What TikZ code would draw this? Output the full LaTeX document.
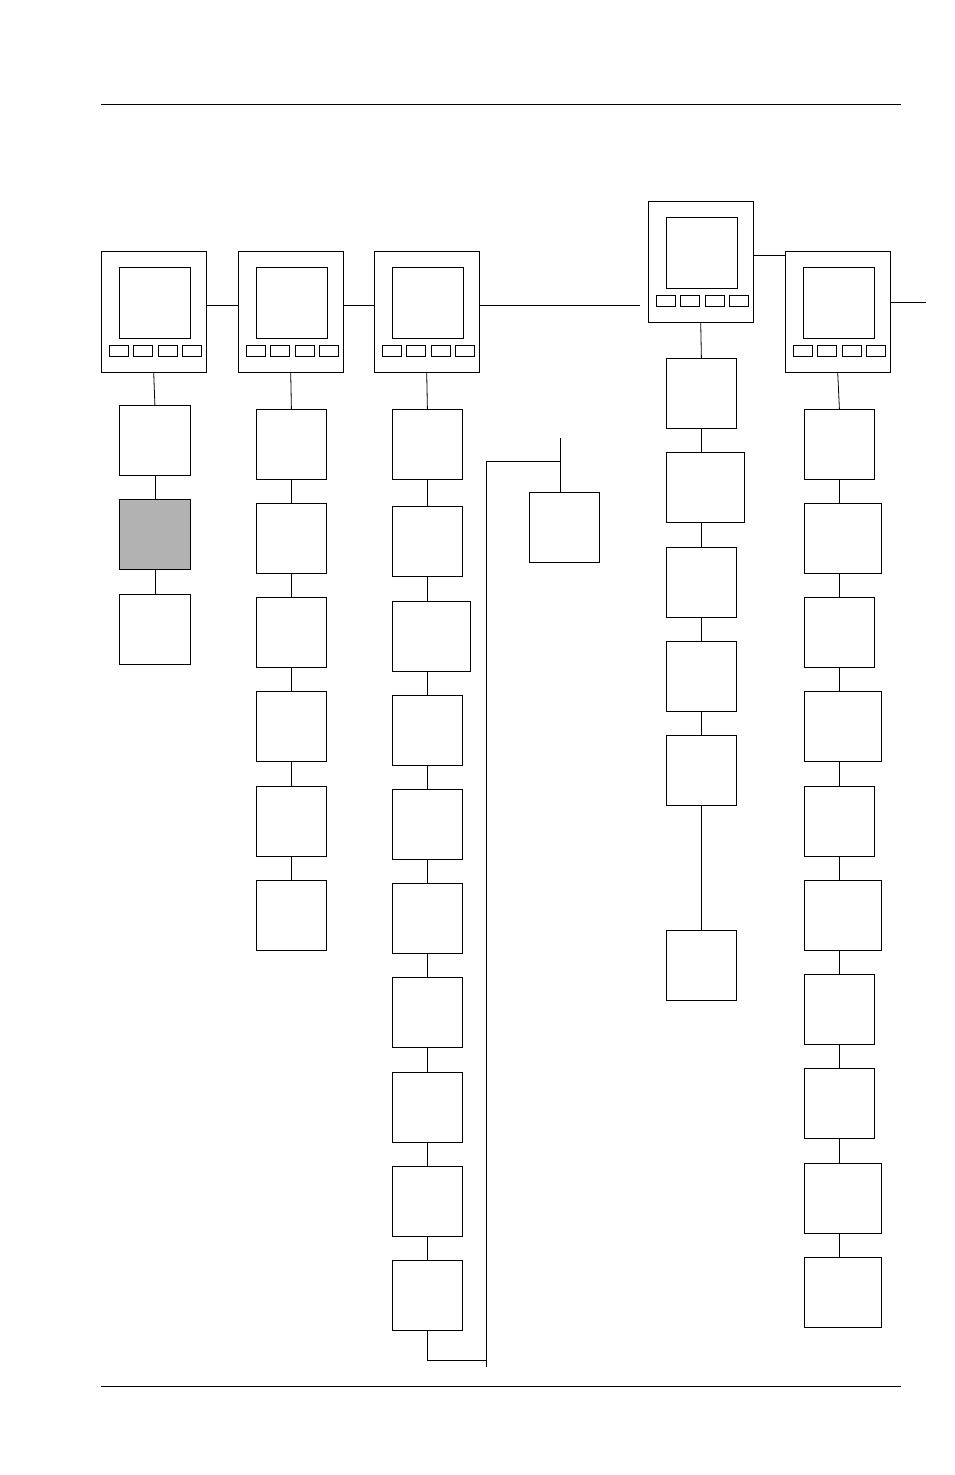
\documentclass[tikz,border=0pt]{standalone}
\usetikzlibrary{positioning}
\tikzset{
  menubox/.style={draw, thick, anchor=north west, inner sep=0pt, minimum height=70pt},
  unit/.style={draw, anchor=north west, inner sep=0pt, minimum width=105pt, minimum height=121pt},
  screen/.style={draw, anchor=north west, inner sep=0pt, minimum width=71pt, minimum height=71pt},
  key/.style={draw, anchor=north west, inner sep=0pt, minimum width=19pt, minimum height=11pt},
  link/.style={line width=0.8pt}
}
\begin{document}
\begin{tikzpicture}[x=1pt, y=-1pt]
  \useasboundingbox (0,0) rectangle (954,1475);
  % --- rules ---
  \draw[link] (101,104) -- (901,104);
  \draw[link] (101,1386) -- (901,1386);

  % --- units ---
  \foreach \n/\ux/\uy in {1/101/251, 2/238/251, 3/374/251, 4/648/201, 5/785/251} {
    \node[unit] (d\n) at (\ux,\uy) {};
    \node[screen] (s\n) at (\ux+18,\uy+16) {};
    \foreach \k/\kx in {1/8, 2/32, 3/57, 4/81}
      \node[key] (k\n\k) at (\ux+\kx,\uy+94) {};
  }
  \coordinate (e3) at (640,305);
  \coordinate (e5) at (926,302);
  \draw[link] (206,305) -- (238,305);
  \draw[link] (343,305) -- (374,305);
  \draw[link] (479,305) -- (e3);
  \draw[link] (753,255) -- (785,255);
  \draw[link] (890,302) -- (e5);

  % --- column 1 ---
  \node[menubox, minimum width=71pt] (a1) at (119,405) {};
  \node[menubox, minimum width=71pt, fill=gray!60] (a2) at (119,499) {};
  \node[menubox, minimum width=71pt] (a3) at (119,594) {};
  \draw[link] (d1.south) -- (a1.north);
  \draw[link] (a1) -- (a2);
  \draw[link] (a2) -- (a3);

  % --- column 2 ---
  \foreach \i/\y in {1/409, 2/503, 3/597, 4/691, 5/786, 6/880}
    \node[menubox, minimum width=70pt] (b\i) at (256,\y) {};
  \draw[link] (d2.south) -- (b1.north);
  \foreach \i [evaluate=\i as \j using int(\i+1)] in {1,...,5}
    \draw[link] (b\i) -- (b\j);

  % --- column 3 ---
  \foreach \i/\y/\w in {1/409/70, 2/506/70, 3/601/78, 4/695/70, 5/789/70, 6/883/70, 7/977/70, 8/1072/70, 9/1166/70, 10/1260/70}
    \node[menubox, minimum width=\w pt] (c\i) at (392,\y) {};
  \draw[link] (d3.south) -- (c1.north);
  \foreach \i [evaluate=\i as \j using int(\i+1)] in {1,...,9}
    \draw[link] (c\i.south -| c1.south) -- (c\j.north -| c1.south);
  \coordinate (r1) at (486,461);
  \coordinate (r2) at (486,1367);
  \coordinate (r3) at (560,438);
  \node[menubox, minimum width=70pt] (x1) at (529,492) {};
  \draw[link] (r1) -- (r2);
  \draw[link] (c10.south) |- (486,1360);
  \draw[link] (r1) -- (r1 -| r3);
  \draw[link] (r3) -- (x1.north -| r3);

  % --- column 4 ---
  \foreach \i/\y/\w in {1/358/70, 2/452/78, 3/547/70, 4/641/70, 5/735/70, 6/930/70}
    \node[menubox, minimum width=\w pt] (f\i) at (666,\y) {};
  \draw[link] (d4.south) -- (f1.north);
  \foreach \i [evaluate=\i as \j using int(\i+1)] in {1,...,5}
    \draw[link] (f\i.south -| f1.south) -- (f\j.north -| f1.south);

  % --- column 5 ---
  \foreach \i/\y/\w in {1/409/70, 2/503/77, 3/597/70, 4/691/77, 5/786/70, 6/880/77, 7/974/70, 8/1068/70, 9/1163/77, 10/1257/77}
    \node[menubox, minimum width=\w pt] (g\i) at (804,\y) {};
  \draw[link] (d5.south) -- (g1.north);
  \foreach \i [evaluate=\i as \j using int(\i+1)] in {1,...,9}
    \draw[link] (g\i.south -| g1.south) -- (g\j.north -| g1.south);
\end{tikzpicture}
\end{document}
